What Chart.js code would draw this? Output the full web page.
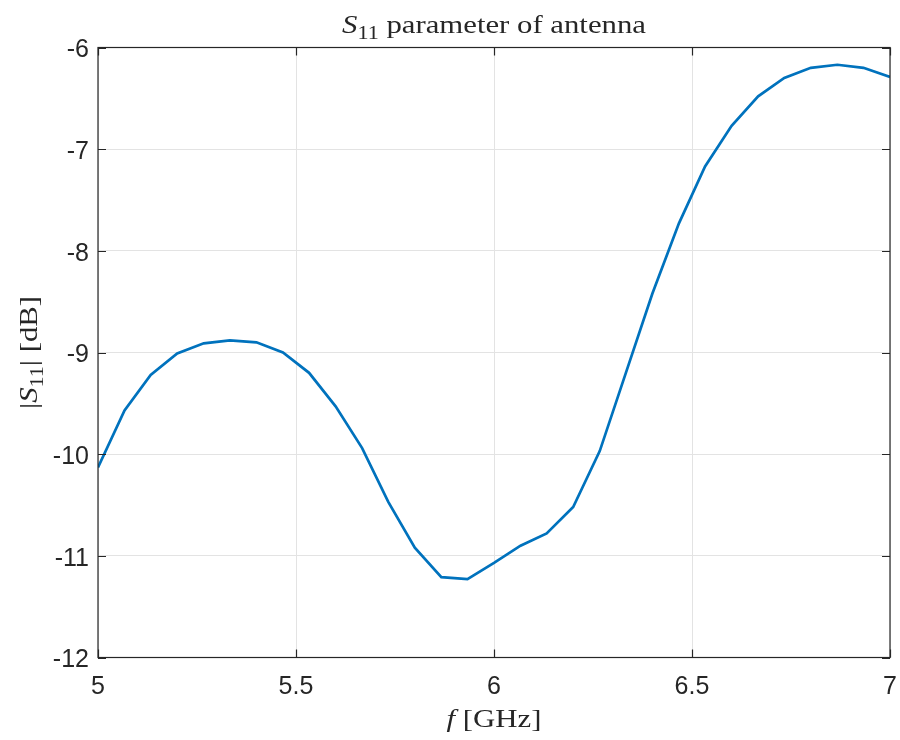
<!DOCTYPE html>
<html>
<head>
<meta charset="utf-8">
<script src="https://cdn.jsdelivr.net/npm/chart.js@4.4.1/dist/chart.umd.min.js"></script>
<style>
html,body{margin:0;padding:0;background:#fff;}
#wrap{width:900px;height:740px;}
</style>
</head>
<body>
<div id="wrap"><canvas id="c" width="900" height="740"></canvas></div>
<script>
// ---- data ----
const freqGHz = [5.000,5.067,5.133,5.200,5.267,5.333,5.400,5.467,5.533,5.600,5.667,5.733,5.800,5.867,5.933,6.000,6.067,6.133,6.200,6.267,6.333,6.400,6.467,6.533,6.600,6.667,6.733,6.800,6.867,6.933,7.000];
const s11dB   = [-10.13,-9.57,-9.22,-9.01,-8.91,-8.88,-8.90,-9.00,-9.20,-9.53,-9.94,-10.47,-10.92,-11.21,-11.23,-11.07,-10.90,-10.78,-10.52,-9.97,-9.20,-8.42,-7.73,-7.17,-6.77,-6.48,-6.30,-6.20,-6.17,-6.20,-6.29];
const xTicks = [5, 5.5, 6, 6.5, 7];
const yTicks = [-12, -11, -10, -9, -8, -7, -6];
const titleParts = [{t:'S', i:true},{t:'11', sub:true},{t:' parameter of antenna'}];
const yLabelParts = [{t:'|'},{t:'S', i:true},{t:'11', sub:true},{t:'| [dB]'}];
const xLabelParts = [{t:'f', i:true},{t:' [GHz]'}];

const AX = '#262626';
const SERIF = '"Liberation Serif", "DejaVu Serif", serif';
const SANS = '"Liberation Sans", Arial, sans-serif';

function drawRich(ctx, parts, size, cx, baseline, rotate){
  const sx = 1.23;
  ctx.save();
  ctx.translate(cx, baseline);
  if (rotate) ctx.rotate(-Math.PI/2);
  ctx.scale(sx, 1);
  const segs = parts.map(p => {
    const s = p.sub ? size*0.72 : size;
    const f = (p.i ? 'italic ' : '') + s + 'px ' + SERIF;
    ctx.font = f;
    return {p, f, w: ctx.measureText(p.t).width};
  });
  const total = segs.reduce((a,s)=>a+s.w,0);
  let x = -total/2;
  ctx.fillStyle = AX;
  ctx.textBaseline = 'alphabetic';
  ctx.textAlign = 'left';
  for (const s of segs){
    ctx.font = s.f;
    ctx.fillText(s.p.t, x, s.p.sub ? size*0.22 : 0);
    x += s.w;
  }
  ctx.restore();
}

const framePlugin = {
  id: 'frame',
  afterDraw(chart){
    const {ctx, chartArea:a, scales} = chart;
    ctx.save();
    ctx.strokeStyle = AX;
    ctx.lineWidth = 1.2;
    ctx.strokeRect(a.left, a.top, a.right-a.left, a.bottom-a.top);
    const L = 8;
    ctx.beginPath();
    for (const v of xTicks){
      const px = Math.round(scales.x.getPixelForValue(v))+0.5;
      ctx.moveTo(px, a.bottom); ctx.lineTo(px, a.bottom-L);
      ctx.moveTo(px, a.top); ctx.lineTo(px, a.top+L);
    }
    for (const v of yTicks){
      const py = Math.round(scales.y.getPixelForValue(v))+0.5;
      ctx.moveTo(a.left, py); ctx.lineTo(a.left+L, py);
      ctx.moveTo(a.right, py); ctx.lineTo(a.right-L, py);
    }
    ctx.stroke();
    ctx.restore();
    const cx = (a.left + a.right)/2;
    drawRich(ctx, titleParts, 25, cx, 33, false);
    drawRich(ctx, xLabelParts, 25, cx, 727, false);
    drawRich(ctx, yLabelParts, 25, 37, (a.top+a.bottom)/2, true);
  }
};

new Chart(document.getElementById('c'), {
  type: 'line',
  data: {
    datasets: [{
      data: freqGHz.map((x,i)=>({x, y:s11dB[i]})),
      borderColor: '#0072BD',
      borderWidth: 2.7,
      pointRadius: 0,
      tension: 0,
      fill: false
    }]
  },
  options: {
    responsive: false,
    animation: false,
    layout: {padding: {top: 47.5, right: 10, left: 0, bottom: 0}},
    plugins: {legend: {display: false}, title: {display: false}, tooltip: {enabled: false}},
    scales: {
      x: {
        type: 'linear', min: 5, max: 7,
        afterBuildTicks: s => { s.ticks = xTicks.map(v => ({value: v})); },
        afterFit: s => { s.height = 82.5; s.paddingLeft = 0; s.paddingRight = 0; },
        grid: {color: '#e3e3e3', lineWidth: 1, drawTicks: false},
        border: {display: false},
        ticks: {color: AX, padding: 15, font: {family: SANS, size: 25},
                callback: v => String(v), maxRotation: 0, autoSkip: false}
      },
      y: {
        type: 'linear', min: -12, max: -6,
        afterBuildTicks: s => { s.ticks = yTicks.map(v => ({value: v})); },
        afterFit: s => { s.width = 98; s.paddingTop = 0; s.paddingBottom = 0; },
        grid: {color: '#e3e3e3', lineWidth: 1, drawTicks: false},
        border: {display: false},
        ticks: {color: AX, padding: 9, labelOffset: 3, font: {family: SANS, size: 25},
                callback: v => String(v), autoSkip: false}
      }
    }
  },
  plugins: [framePlugin]
});
</script>
</body>
</html>
